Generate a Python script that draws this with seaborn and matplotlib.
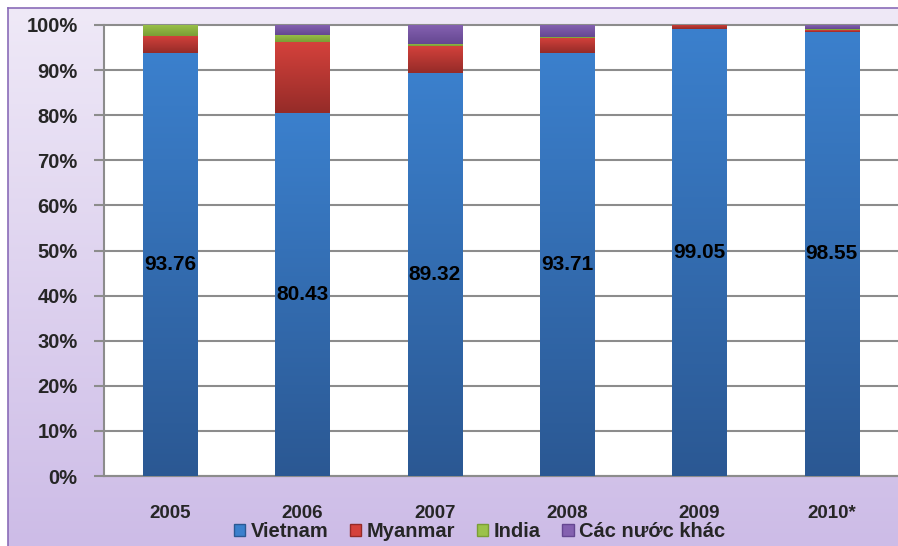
import numpy as np
import pandas as pd
import matplotlib
matplotlib.use("Agg")
import matplotlib.pyplot as plt
import matplotlib.colors as mcolors
from matplotlib.patches import Patch
import seaborn as sns

# Share of imports by origin (%)
years = ['2005', '2006', '2007', '2008', '2009', '2010*']
vietnam = [93.76, 80.43, 89.32, 93.71, 99.05, 98.55]
myanmar = [3.80, 15.80, 6.00, 3.40, 0.95, 0.30]
india = [2.44, 1.60, 0.50, 0.30, 0.00, 0.30]
others = [0.00, 2.17, 4.18, 2.59, 0.00, 0.85]
series_names = ['Vietnam', 'Myanmar', 'India', 'Các nước khác']

# (top colour, bottom colour) for each series
grad_colors = [('#3b80cd', '#2b5893'),
               ('#d5423c', '#952b28'),
               ('#9bc24a', '#7a9e35'),
               ('#8461b0', '#654791')]

sns.set_style("white")
plt.rcParams['font.family'] = ['Liberation Sans', 'DejaVu Sans']

fig = plt.figure(figsize=(8.98, 5.46), dpi=100)

# lavender chart-area background with border
bg = fig.add_axes([8 / 898, 0, 1 - 8 / 898, 1 - 8 / 546], zorder=-10)
grad = np.linspace(0, 1, 256).reshape(-1, 1)
bg_cmap = mcolors.LinearSegmentedColormap.from_list('bg', ['#efe9f7', '#cdbce7'])
bg.imshow(grad, aspect='auto', cmap=bg_cmap, extent=(0, 1, 0, 1), origin='upper')
bg.set_xlim(0, 1)
bg.set_ylim(0, 1)
bg.set_xticks([])
bg.set_yticks([])
for s in bg.spines.values():
    s.set_color('#8a6cb8')
    s.set_linewidth(1.2)
bg.spines['right'].set_visible(False)
bg.spines['bottom'].set_visible(False)

ax = fig.add_axes([104 / 898, 1 - 476 / 546, 1 - 104 / 898, (476 - 25) / 546])
ax.set_facecolor('white')

df = pd.DataFrame({'year': years, 'Vietnam': vietnam, 'Myanmar': myanmar,
                   'India': india, 'Các nước khác': others})

bottom = np.zeros(len(years))
layers = []
for name in series_names:
    n0 = len(ax.patches)
    sns.barplot(data=df, x='year', y=name, bottom=bottom.copy(), width=0.41,
                color=grad_colors[series_names.index(name)][0], ax=ax,
                zorder=3, linewidth=0)
    layers.append(ax.patches[n0:])
    bottom += df[name].values

# vertical gradient fill for each segment
for name, patches in zip(series_names, layers):
    top_c, bot_c = grad_colors[series_names.index(name)]
    cmap = mcolors.LinearSegmentedColormap.from_list(name, [top_c, bot_c])
    for p in patches:
        h = p.get_height()
        if h <= 0:
            p.set_visible(False)
            continue
        x0, y0, w = p.get_x(), p.get_y(), p.get_width()
        im = ax.imshow(grad, aspect='auto', cmap=cmap, origin='upper',
                       extent=(x0, x0 + w, y0, y0 + h), zorder=3.5)
        im.set_clip_path(p)

# data labels for Vietnam share
for i, v in enumerate(vietnam):
    ax.text(i, v / 2, f'{v:.2f}', ha='center', va='center', fontsize=15,
            fontweight='bold', color='black', zorder=5)

ax.set_xlim(-0.5, len(years) - 0.5)
ax.set_ylim(0, 100)
ax.set_yticks(np.arange(0, 101, 10))
ax.set_yticklabels([f'{t}%' for t in range(0, 101, 10)], fontsize=14.5,
                   fontweight='bold')
ax.grid(axis='y', color='#8c8c8c', linewidth=1.5, zorder=0)
for gl in ax.get_ygridlines():
    gl.set_clip_on(False)
ax.set_axisbelow(True)

ax.set_xticks(range(len(years)))
ax.set_xticklabels(years, fontsize=13.5, fontweight='bold')
ax.set_xticks(np.arange(-0.5, len(years), 1), minor=True)
ax.tick_params(axis='x', which='major', length=0, pad=21)
ax.tick_params(axis='x', which='minor', length=6, color='#8c8c8c', width=1.2)
ax.tick_params(axis='y', length=7, color='#8c8c8c', width=1.5, left=True, pad=12)
ax.set_xlabel('')
ax.set_ylabel('')

for side in ['top', 'right']:
    ax.spines[side].set_visible(False)
for side in ['left', 'bottom']:
    ax.spines[side].set_color('#8c8c8c')
    ax.spines[side].set_linewidth(1.5)

handles = [Patch(facecolor=c[0], edgecolor=c[1], label=n)
           for n, c in zip(series_names, grad_colors)]
fig.legend(handles=handles, loc='center', bbox_to_anchor=(0.534, 0.027),
           ncol=4, frameon=False, handlelength=0.55, handleheight=0.55,
           handletextpad=0.25, columnspacing=1.1,
           prop={'weight': 'bold', 'size': 14.5})

fig.savefig('out.png', dpi=100)
